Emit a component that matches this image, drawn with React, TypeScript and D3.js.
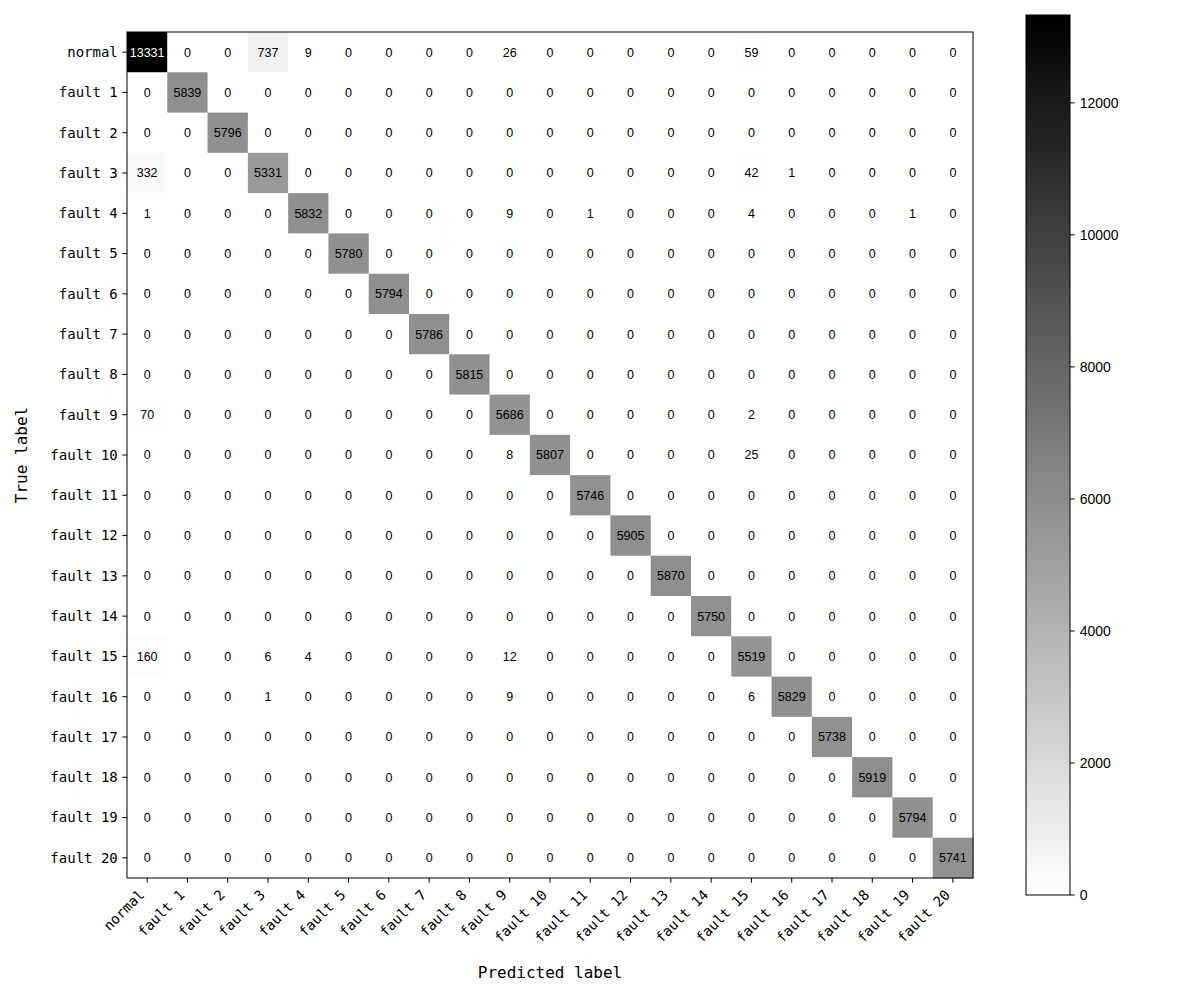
import React from "react";
import * as d3 from "d3";

// class names, same order on both axes
const labels = [
  "normal", "fault 1", "fault 2", "fault 3", "fault 4", "fault 5", "fault 6",
  "fault 7", "fault 8", "fault 9", "fault 10", "fault 11", "fault 12", "fault 13",
  "fault 14", "fault 15", "fault 16", "fault 17", "fault 18", "fault 19", "fault 20",
];

// rows = true label, columns = predicted label
const matrix: number[][] = [
  [13331, 0, 0, 737, 9, 0, 0, 0, 0, 26, 0, 0, 0, 0, 0, 59, 0, 0, 0, 0, 0],
  [0, 5839, 0, 0, 0, 0, 0, 0, 0, 0, 0, 0, 0, 0, 0, 0, 0, 0, 0, 0, 0],
  [0, 0, 5796, 0, 0, 0, 0, 0, 0, 0, 0, 0, 0, 0, 0, 0, 0, 0, 0, 0, 0],
  [332, 0, 0, 5331, 0, 0, 0, 0, 0, 0, 0, 0, 0, 0, 0, 42, 1, 0, 0, 0, 0],
  [1, 0, 0, 0, 5832, 0, 0, 0, 0, 9, 0, 1, 0, 0, 0, 4, 0, 0, 0, 1, 0],
  [0, 0, 0, 0, 0, 5780, 0, 0, 0, 0, 0, 0, 0, 0, 0, 0, 0, 0, 0, 0, 0],
  [0, 0, 0, 0, 0, 0, 5794, 0, 0, 0, 0, 0, 0, 0, 0, 0, 0, 0, 0, 0, 0],
  [0, 0, 0, 0, 0, 0, 0, 5786, 0, 0, 0, 0, 0, 0, 0, 0, 0, 0, 0, 0, 0],
  [0, 0, 0, 0, 0, 0, 0, 0, 5815, 0, 0, 0, 0, 0, 0, 0, 0, 0, 0, 0, 0],
  [70, 0, 0, 0, 0, 0, 0, 0, 0, 5686, 0, 0, 0, 0, 0, 2, 0, 0, 0, 0, 0],
  [0, 0, 0, 0, 0, 0, 0, 0, 0, 8, 5807, 0, 0, 0, 0, 25, 0, 0, 0, 0, 0],
  [0, 0, 0, 0, 0, 0, 0, 0, 0, 0, 0, 5746, 0, 0, 0, 0, 0, 0, 0, 0, 0],
  [0, 0, 0, 0, 0, 0, 0, 0, 0, 0, 0, 0, 5905, 0, 0, 0, 0, 0, 0, 0, 0],
  [0, 0, 0, 0, 0, 0, 0, 0, 0, 0, 0, 0, 0, 5870, 0, 0, 0, 0, 0, 0, 0],
  [0, 0, 0, 0, 0, 0, 0, 0, 0, 0, 0, 0, 0, 0, 5750, 0, 0, 0, 0, 0, 0],
  [160, 0, 0, 6, 4, 0, 0, 0, 0, 12, 0, 0, 0, 0, 0, 5519, 0, 0, 0, 0, 0],
  [0, 0, 0, 1, 0, 0, 0, 0, 0, 9, 0, 0, 0, 0, 0, 6, 5829, 0, 0, 0, 0],
  [0, 0, 0, 0, 0, 0, 0, 0, 0, 0, 0, 0, 0, 0, 0, 0, 0, 5738, 0, 0, 0],
  [0, 0, 0, 0, 0, 0, 0, 0, 0, 0, 0, 0, 0, 0, 0, 0, 0, 0, 5919, 0, 0],
  [0, 0, 0, 0, 0, 0, 0, 0, 0, 0, 0, 0, 0, 0, 0, 0, 0, 0, 0, 5794, 0],
  [0, 0, 0, 0, 0, 0, 0, 0, 0, 0, 0, 0, 0, 0, 0, 0, 0, 0, 0, 0, 5741],
];

const colorbarTicks = [0, 2000, 4000, 6000, 8000, 10000, 12000];

const W = 1200;
const H = 1000;
const plot = { left: 127, right: 973, top: 32, bottom: 878 };
const cbar = { left: 1026, right: 1070, top: 15, bottom: 895 };
const tickLen = 4.7;
const mono = "'DejaVu Sans Mono', monospace";
const sans = "'Liberation Sans', Arial, sans-serif";

const App: React.FC = () => {
  const maxVal = d3.max(matrix.flat()) || 1;
  const x = d3.scaleBand<string>().domain(labels).range([plot.left, plot.right]);
  const y = d3.scaleBand<string>().domain(labels).range([plot.top, plot.bottom]);
  const color = d3
    .scaleLinear<string>()
    .domain([0, maxVal])
    .range(["#ffffff", "#000000"])
    .interpolate(d3.interpolateRgb);
  const cy = d3.scaleLinear().domain([0, maxVal]).range([cbar.bottom, cbar.top]);
  const thresh = maxVal / 2;

  // gradient stops for the colorbar
  const stops = d3.range(0, 11).map((i) => i / 10);

  return (
    <svg
      width={W}
      height={H}
      style={{ position: "absolute", left: 0, top: 0, background: "#fff" }}
    >
      <defs>
        <linearGradient id="cbGrad" x1="0" y1="1" x2="0" y2="0">
          {stops.map((s) => (
            <stop key={s} offset={s} stopColor={color(s * maxVal)} />
          ))}
        </linearGradient>
      </defs>

      {/* cells */}
      <g>
        {matrix.map((row, i) =>
          row.map((v, j) => (
            <rect
              key={`c${i}-${j}`}
              x={x(labels[j])!}
              y={y(labels[i])!}
              width={x.bandwidth() + 0.5}
              height={y.bandwidth() + 0.5}
              fill={color(v)}
            />
          ))
        )}
      </g>

      {/* cell values */}
      <g fontFamily={sans} fontSize={12.5} textAnchor="middle">
        {matrix.map((row, i) =>
          row.map((v, j) => (
            <text
              key={`t${i}-${j}`}
              x={x(labels[j])! + x.bandwidth() / 2}
              y={y(labels[i])! + y.bandwidth() / 2}
              dy="0.35em"
              fill={v > thresh ? "#fff" : "#000"}
            >
              {v}
            </text>
          ))
        )}
      </g>

      {/* frame */}
      <rect
        x={plot.left}
        y={plot.top}
        width={plot.right - plot.left}
        height={plot.bottom - plot.top}
        fill="none"
        stroke="#000"
        strokeWidth={1}
      />

      {/* y axis */}
      <g fontFamily={mono} fontSize={14} textAnchor="end">
        {labels.map((l) => {
          const yy = y(l)! + y.bandwidth() / 2;
          return (
            <g key={`y${l}`}>
              <line x1={plot.left - tickLen} x2={plot.left} y1={yy} y2={yy} stroke="#000" />
              <text x={plot.left - tickLen - 4.5} y={yy} dy="0.35em">
                {l}
              </text>
            </g>
          );
        })}
      </g>

      {/* x axis */}
      <g fontFamily={mono} fontSize={14} textAnchor="end">
        {labels.map((l) => {
          const xx = x(l)! + x.bandwidth() / 2;
          return (
            <g key={`x${l}`}>
              <line x1={xx} x2={xx} y1={plot.bottom} y2={plot.bottom + tickLen} stroke="#000" />
              <text transform={`translate(${xx - 2},${plot.bottom + tickLen + 13}) rotate(-45)`}>
                {l}
              </text>
            </g>
          );
        })}
      </g>

      {/* axis titles */}
      <text
        x={(plot.left + plot.right) / 2}
        y={978}
        textAnchor="middle"
        fontFamily={mono}
        fontSize={16}
      >
        Predicted label
      </text>
      <text
        transform={`translate(27,${(plot.top + plot.bottom) / 2}) rotate(-90)`}
        textAnchor="middle"
        fontFamily={mono}
        fontSize={16}
      >
        True label
      </text>

      {/* colorbar */}
      <rect
        x={cbar.left}
        y={cbar.top}
        width={cbar.right - cbar.left}
        height={cbar.bottom - cbar.top}
        fill="url(#cbGrad)"
        stroke="#000"
        strokeWidth={1}
      />
      <g fontFamily={sans} fontSize={14}>
        {colorbarTicks.map((t) => (
          <g key={`cb${t}`}>
            <line x1={cbar.right} x2={cbar.right + tickLen} y1={cy(t)} y2={cy(t)} stroke="#000" />
            <text x={cbar.right + tickLen + 5} y={cy(t)} dy="0.35em">
              {t}
            </text>
          </g>
        ))}
      </g>
    </svg>
  );
};

export default App;
